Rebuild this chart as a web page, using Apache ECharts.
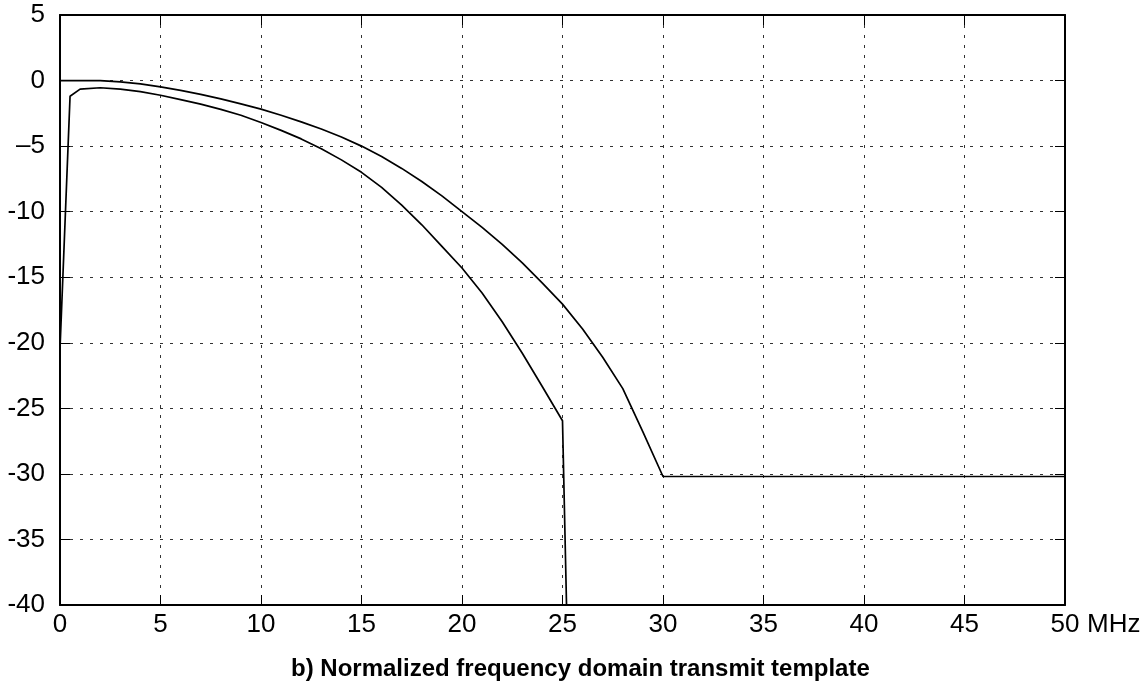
<!DOCTYPE html>
<html>
<head>
<meta charset="utf-8">
<script src="https://cdn.jsdelivr.net/npm/echarts@6/dist/echarts.min.js"></script>
<style>
html,body{margin:0;padding:0;background:#fff;}
#c{width:1148px;height:683px;}
</style>
</head>
<body>
<div id="c"></div>
<script>
// Frequency (MHz) points for the upper (template / mask) curve
const upperFreq = [0, 1, 2, 3, 4, 5, 6, 7, 8, 9, 10, 11, 12, 13, 14, 15, 16, 17, 18, 19, 20, 21, 22, 23, 24, 25, 26, 27, 28, 29, 30, 50];
const upperDb   = [0, 0, 0, -0.1, -0.25, -0.48, -0.75, -1.05, -1.4, -1.78, -2.18, -2.65, -3.15, -3.7, -4.3, -5.0, -5.8, -6.7, -7.7, -8.8, -10.0, -11.2, -12.5, -13.9, -15.45, -17.05, -18.95, -21.1, -23.5, -26.8, -30.2, -30.2];

// Frequency (MHz) points for the lower curve
const lowerFreq = [0, 0.5, 1, 2, 3, 4, 5, 6, 7, 8, 9, 10, 11, 12, 13, 14, 15, 16, 17, 18, 19, 20, 21, 22, 23, 24, 25, 25.2];
const lowerDb   = [-20.5, -1.2, -0.65, -0.55, -0.65, -0.85, -1.12, -1.45, -1.8, -2.2, -2.65, -3.2, -3.8, -4.45, -5.2, -6.05, -7.0, -8.15, -9.5, -11.0, -12.65, -14.3, -16.2, -18.4, -20.8, -23.35, -25.95, -40];

const xTicks = [0, 5, 10, 15, 20, 25, 30, 35, 40, 45, 50];
const yTicks = [5, 0, -5, -10, -15, -20, -25, -30, -35, -40];
const xUnit = 'MHz';
const titleText = 'b) Normalized frequency domain transmit template';

const FONT = 'Liberation Sans, Arial, Helvetica, sans-serif';
const zip = (xs, ys) => xs.map((x, i) => [x, ys[i]]);

const chart = echarts.init(document.getElementById('c'), null, {renderer: 'canvas'});

const gridLine = {show: true, lineStyle: {color: '#333', width: 1, type: [3, 7]}};
const frameLine = {show: true, onZero: false, lineStyle: {color: '#000', width: 2}};
const inTick = {show: true, inside: true, length: 10, lineStyle: {color: '#000', width: 1}};

chart.setOption({
  animation: false,
  backgroundColor: '#fff',
  title: {
    text: titleText,
    left: 286,
    top: 652,
    textStyle: {fontFamily: FONT, fontSize: 24, fontWeight: 'bold', color: '#000'}
  },
  grid: {left: 60, top: 15, width: 1005, height: 590, containLabel: false},
  xAxis: [{
    type: 'value', min: xTicks[0], max: xTicks[xTicks.length - 1], interval: 5,
    position: 'bottom',
    axisLine: frameLine, axisTick: inTick,
    splitLine: gridLine,
    axisLabel: {show: true, margin: 5, fontFamily: FONT, fontSize: 26, color: '#000', verticalAlign: 'top', lineHeight: 30},
    name: xUnit, nameLocation: 'end', nameGap: 22,
    nameTextStyle: {fontFamily: FONT, fontSize: 26, color: '#000', verticalAlign: 'top', lineHeight: 30, padding: [5, 0, 0, 0]}
  }, {
    type: 'value', min: xTicks[0], max: xTicks[xTicks.length - 1], interval: 5,
    position: 'top',
    axisLine: frameLine, axisTick: inTick, splitLine: {show: false}, axisLabel: {show: false}
  }],
  yAxis: [{
    type: 'value', min: yTicks[yTicks.length - 1], max: yTicks[0], interval: 5,
    position: 'left',
    axisLine: frameLine, axisTick: inTick,
    splitLine: gridLine,
    axisLabel: {
      show: true, margin: 15, fontFamily: FONT, fontSize: 26, color: '#000',
      formatter: v => (v === -5 ? '\u20135' : String(v))
    }
  }, {
    type: 'value', min: yTicks[yTicks.length - 1], max: yTicks[0], interval: 5,
    position: 'right',
    axisLine: frameLine, axisTick: inTick, splitLine: {show: false}, axisLabel: {show: false}
  }],
  series: [{
    name: 'upper', type: 'line', data: zip(upperFreq, upperDb),
    showSymbol: false, clip: true,
    lineStyle: {color: '#000', width: 1.7}
  }, {
    name: 'lower', type: 'line', data: zip(lowerFreq, lowerDb),
    showSymbol: false, clip: true,
    lineStyle: {color: '#000', width: 1.7}
  }]
});
</script>
</body>
</html>
